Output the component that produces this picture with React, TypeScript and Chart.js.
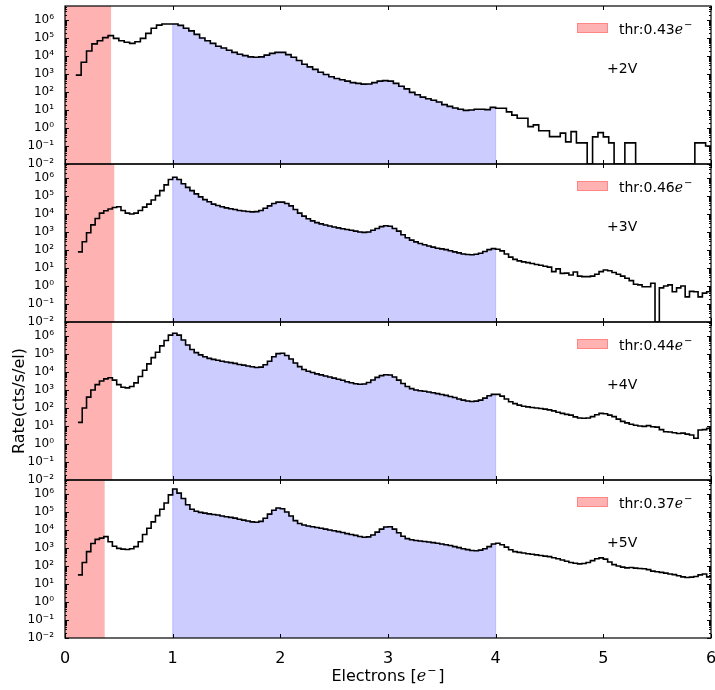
import React, { useEffect, useRef } from 'react';
import { Chart, registerables } from 'chart.js';

Chart.register(...registerables);

// ---------------- data ----------------
const X_TICKS = [0, 1, 2, 3, 4, 5, 6];
const Y_TICK_VALUES = [1e-2, 1e-1, 1e0, 1e1, 1e2, 1e3, 1e4, 1e5, 1e6];
const Y_TICK_LABELS = ['10⁻²', '10⁻¹', '10⁰', '10¹', '10²', '10³', '10⁴', '10⁵', '10⁶'];
const MINOR_MULTIPLES = [2, 3, 4, 5, 6, 7, 8, 9];
const X_MIN = 0;
const X_MAX = 6;
const Y_MIN = 1e-2;
const Y_MAX = 6e6;

const PANEL_LABELS = ['+2V', '+3V', '+4V', '+5V'];
const THRESHOLDS = [0.43, 0.46, 0.44, 0.37];
const SIGNAL_WINDOW = [1, 4];
const BIN_STARTS = [0.1, 0.12, 0.12, 0.12];
const BIN_WIDTHS = [0.05, 0.04, 0.04, 0.04];

// rate per bin (cts/s/el); 0 = empty bin
const RATE_2V = [
  870, 4.5e3, 1.9e4, 4.7e4, 7.1e4, 1.05e5, 1.35e5, 9.5e4, 7.1e4, 5.8e4,
  5.0e4, 6.2e4, 9.5e4, 1.8e5, 3.5e5, 5.2e5, 6.0e5, 6.0e5, 6.0e5, 5.0e5,
  3.5e5, 2.5e5, 1.6e5, 1.0e5, 7.1e4, 5.0e4, 3.5e4, 2.8e4, 2.1e4, 1.6e4,
  1.26e4, 1.05e4, 8.9e3, 8.5e3, 8.9e3, 1.12e4, 1.4e4, 1.6e4, 1.6e4, 1.2e4,
  8.5e3, 5.6e3, 3.5e3, 2.5e3, 1.8e3, 1.26e3, 930, 710, 560, 480,
  400, 330, 300, 275, 280, 330, 400, 430, 400, 300,
  210, 150, 95, 71, 52, 42, 35, 28, 20, 16,
  13, 11, 9.5, 10, 11, 11, 10.5, 14, 12.6, 12.6,
  7.9, 5.2, 3.5, 3.5, 1.2, 1.5, 0.7, 0.7, 0.33, 0.33,
  0.52, 0.17, 0.63, 0.15, 0.15, 0, 0.32, 0.55, 0.32, 0.15,
  0, 0, 0.15, 0.15, 0, 0, 0, 0, 0, 0,
  0, 0, 0, 0, 0, 0.15, 0.15, 0.1,
];

const RATE_3V = [
  79, 290, 910, 2.5e3, 5.6e3, 1.12e4, 1.51e4, 1.9e4, 2.29e4, 2.51e4,
  1.58e4, 1.12e4, 1.0e4, 1.12e4, 1.58e4, 2.4e4, 3.55e4, 6.0e4, 1.05e5, 2.0e5,
  4.17e5, 8.3e5, 1.1e6, 8.3e5, 4.8e5, 3.0e5, 2.0e5, 1.32e5, 8.9e4, 6.3e4,
  4.8e4, 3.55e4, 2.95e4, 2.51e4, 2.19e4, 1.95e4, 1.78e4, 1.58e4, 1.48e4, 1.38e4,
  1.32e4, 1.35e4, 1.58e4, 2.09e4, 2.82e4, 3.8e4, 4.57e4, 4.57e4, 3.8e4, 2.82e4,
  1.78e4, 1.12e4, 7.6e3, 5.5e3, 4.17e3, 3.31e3, 2.82e3, 2.45e3, 2.14e3, 1.9e3,
  1.7e3, 1.51e3, 1.38e3, 1.26e3, 1.12e3, 1.0e3, 955, 1.0e3, 1.26e3, 1.58e3,
  2.0e3, 2.24e3, 2.09e3, 1.58e3, 1.12e3, 710, 480, 355, 282, 229,
  195, 166, 145, 126, 115, 105, 91, 79, 69, 60,
  56, 55, 58, 66, 83, 105, 120, 110, 89, 60,
  40, 30, 25, 22, 20, 17.8, 15.8, 14.1, 12.6, 11.2,
  6.3, 8.9, 5.0, 5.2, 4.1, 6.0, 3.55, 3.3, 3.3, 3.55,
  4.5, 6.3, 7.8, 7.1, 5.6, 4.5, 3.55, 2.7, 2.0, 1.26,
  1.15, 0.91, 0.91, 1.41, 0, 0.79, 1.0, 1.15, 0.48, 0.79,
  1.0, 0.25, 0.5, 0.48, 0.25, 0.4, 0.48,
];

const RATE_4V = [
  16, 100, 400, 1.0e3, 2.0e3, 3.16e3, 4.17e3, 4.79e3, 3.55e3, 2.0e3,
  1.41e3, 1.32e3, 1.58e3, 2.5e3, 5.6e3, 1.26e4, 2.82e4, 6.3e4, 1.26e5, 2.82e5,
  5.6e5, 1.12e6, 1.41e6, 1.12e6, 6.0e5, 3.16e5, 1.78e5, 1.2e5, 8.9e4, 7.1e4,
  5.75e4, 5.0e4, 4.47e4, 3.98e4, 3.63e4, 3.31e4, 3.02e4, 2.63e4, 2.4e4, 2.14e4,
  1.95e4, 1.78e4, 1.86e4, 2.51e4, 3.98e4, 7.1e4, 1.05e5, 1.1e5, 8.3e4, 5.25e4,
  3.16e4, 2.0e4, 1.38e4, 1.1e4, 9.3e3, 7.9e3, 6.9e3, 6.0e3, 5.25e3, 4.57e3,
  3.98e3, 3.47e3, 2.88e3, 2.51e3, 2.24e3, 2.09e3, 2.14e3, 2.63e3, 3.63e3, 5.0e3,
  6.3e3, 7.1e3, 6.8e3, 5.25e3, 3.55e3, 2.29e3, 1.58e3, 1.2e3, 1.0e3, 912,
  851, 776, 708, 631, 562, 501, 437, 380, 316, 275,
  245, 229, 240, 275, 355, 479, 575, 575, 457, 316,
  224, 174, 145, 126, 115, 107, 100, 93, 87, 79,
  69, 58, 50, 44, 40, 32, 28, 27, 28, 33,
  42, 50, 48, 40, 33, 24, 18, 15, 12.6, 11,
  10, 9.5, 10.5, 9.1, 8.7, 6.3, 4.8, 4.6, 4.2, 3.8,
  4.0, 3.55, 3.16, 2.1, 6.0, 6.3, 7.4,
];

const RATE_5V = [
  32, 158, 631, 1.78e3, 3.0e3, 3.55e3, 4.27e3, 2.24e3, 1.26e3, 955,
  871, 832, 912, 1.2e3, 2.24e3, 5.6e3, 1.26e4, 2.82e4, 6.3e4, 1.41e5,
  3.16e5, 8.9e5, 1.9e6, 1.12e6, 5.6e5, 2.51e5, 1.41e5, 1.1e5, 9.5e4, 8.7e4,
  7.9e4, 7.2e4, 6.8e4, 6.0e4, 5.5e4, 5.0e4, 4.57e4, 3.98e4, 3.55e4, 3.16e4,
  2.82e4, 2.69e4, 3.02e4, 4.47e4, 7.6e4, 1.26e5, 1.66e5, 1.51e5, 1.0e5, 6.0e4,
  3.31e4, 2.29e4, 1.9e4, 1.66e4, 1.51e4, 1.38e4, 1.26e4, 1.12e4, 1.0e4, 9.1e3,
  8.1e3, 7.2e3, 6.3e3, 5.6e3, 5.0e3, 4.37e3, 3.98e3, 4.17e3, 5.25e3, 7.6e3,
  1.12e4, 1.48e4, 1.51e4, 1.12e4, 7.1e3, 4.47e3, 3.31e3, 2.88e3, 2.63e3, 2.45e3,
  2.29e3, 2.14e3, 2.0e3, 1.82e3, 1.66e3, 1.51e3, 1.38e3, 1.2e3, 1.05e3, 912,
  813, 724, 708, 759, 912, 1.2e3, 1.66e3, 1.82e3, 1.51e3, 1.12e3,
  794, 631, 575, 525, 479, 447, 417, 380, 355, 331,
  288, 251, 214, 182, 158, 141, 132, 138, 158, 200,
  251, 282, 240, 166, 120, 100, 87, 79, 83, 76,
  72, 71, 63, 52, 48, 44, 40, 36, 33, 29,
  25, 23, 24, 26, 32, 36, 25,
];

const RATES = [RATE_2V, RATE_3V, RATE_4V, RATE_5V];

// ---------------- styles ----------------
const FONT = '"DejaVu Sans", "Liberation Sans", sans-serif';
const MATH_FONT = '"DejaVu Serif", "Liberation Serif", serif';
const RED_FILL = 'rgba(255, 0, 0, 0.3)';
const BLUE_FILL = 'rgba(0, 0, 255, 0.2)';
const BLUE_EDGE = 'rgba(0, 0, 255, 0.22)';
const INK = '#000000';

type Pt = { x: number; y: number };

function binEdge(p: number, j: number): number {
  return +(BIN_STARTS[p] + j * BIN_WIDTHS[p]).toFixed(4);
}

function histogramPoints(p: number): Pt[] {
  const vals = RATES[p];
  const pts: Pt[] = vals.map((v, j) => ({ x: binEdge(p, j), y: v > 0 ? v : Y_MIN }));
  const last = vals[vals.length - 1];
  pts.push({ x: binEdge(p, vals.length), y: last > 0 ? last : Y_MIN });
  return pts;
}

function signalPoints(p: number): Pt[] {
  const vals = RATES[p];
  const [lo, hi] = SIGNAL_WINDOW;
  const pts: Pt[] = [{ x: lo, y: Y_MIN }];
  let lastVal = Y_MIN;
  vals.forEach((v, j) => {
    const e = binEdge(p, j);
    if (e >= lo - 1e-6 && e < hi - 1e-6) {
      lastVal = v > 0 ? v : Y_MIN;
      pts.push({ x: e, y: lastVal });
    }
  });
  pts.push({ x: hi, y: lastVal });
  pts.push({ x: hi, y: Y_MIN });
  return pts;
}

function drawElectronSymbol(ctx: CanvasRenderingContext2D, x: number, baseline: number, size: number): number {
  ctx.font = `italic ${size}px ${MATH_FONT}`;
  ctx.fillText('e', x, baseline);
  let w = ctx.measureText('e').width + 1;
  const supSize = Math.round(size * 0.7);
  ctx.font = `${supSize}px ${FONT}`;
  ctx.fillText('\u2212', x + w, baseline - size * 0.42);
  w += ctx.measureText('\u2212').width;
  return w;
}

const decorations = {
  id: 'decorations',
  afterDraw(chart: any) {
    const ctx: CanvasRenderingContext2D = chart.ctx;
    const { left, right } = chart.chartArea;
    const xs = chart.scales.x;
    ctx.save();
    ctx.fillStyle = INK;
    ctx.strokeStyle = INK;
    for (let p = 0; p < 4; p++) {
      const ys = chart.scales['y' + p];
      const top = ys.top;
      const bottom = ys.bottom;

      // inward ticks
      ctx.lineWidth = 1;
      ctx.beginPath();
      X_TICKS.forEach((t) => {
        const px = Math.round(xs.getPixelForValue(t)) + 0.5;
        ctx.moveTo(px, bottom);
        ctx.lineTo(px, bottom - 4);
        ctx.moveTo(px, top);
        ctx.lineTo(px, top + 4);
      });
      Y_TICK_VALUES.forEach((v) => {
        const py = Math.round(ys.getPixelForValue(v)) + 0.5;
        ctx.moveTo(left, py);
        ctx.lineTo(left + 4, py);
        ctx.moveTo(right, py);
        ctx.lineTo(right - 4, py);
        MINOR_MULTIPLES.forEach((m) => {
          const mv = m * v;
          if (mv >= Y_MAX) return;
          const pm = Math.round(ys.getPixelForValue(mv)) + 0.5;
          ctx.moveTo(left, pm);
          ctx.lineTo(left + 2, pm);
          ctx.moveTo(right, pm);
          ctx.lineTo(right - 2, pm);
        });
      });
      ctx.stroke();

      // frame
      ctx.lineWidth = 1.2;
      ctx.strokeRect(left, top, right - left, bottom - top);

      // legend
      const lx = right - 134;
      ctx.fillStyle = RED_FILL;
      ctx.fillRect(lx, top + 17, 31, 10);
      ctx.strokeStyle = 'rgba(255,0,0,0.25)';
      ctx.lineWidth = 1;
      ctx.strokeRect(lx + 0.5, top + 17.5, 30, 9);
      ctx.strokeStyle = INK;
      ctx.fillStyle = INK;
      ctx.textBaseline = 'alphabetic';
      ctx.textAlign = 'left';
      ctx.font = `14px ${FONT}`;
      const label = `thr:${THRESHOLDS[p].toFixed(2)}`;
      let tx = lx + 42;
      ctx.fillText(label, tx, top + 27.5);
      tx += ctx.measureText(label).width;
      drawElectronSymbol(ctx, tx, top + 27.5, 14);

      // voltage label
      ctx.font = `14px ${FONT}`;
      ctx.fillText(PANEL_LABELS[p], right - 104, top + 67);
    }

    // x axis title
    ctx.font = `16px ${FONT}`;
    const a = 'Electrons [';
    const wa = ctx.measureText(a).width;
    ctx.font = `italic 16px ${MATH_FONT}`;
    const we = ctx.measureText('e').width + 1;
    ctx.font = `11px ${FONT}`;
    const wm = ctx.measureText('\u2212').width;
    ctx.font = `16px ${FONT}`;
    const wb = ctx.measureText(']').width;
    const total = wa + we + wm + wb + 2;
    let x0 = (left + right) / 2 - total / 2;
    const base = 681;
    ctx.fillText(a, x0, base);
    x0 += wa;
    x0 += drawElectronSymbol(ctx, x0, base, 16) + 2;
    ctx.font = `16px ${FONT}`;
    ctx.fillText(']', x0, base);

    // y axis title (centred on third panel)
    const y3 = chart.scales.y2;
    ctx.translate(20, (y3.top + y3.bottom) / 2);
    ctx.rotate(-Math.PI / 2);
    ctx.textAlign = 'center';
    ctx.textBaseline = 'middle';
    ctx.font = `16px ${FONT}`;
    ctx.fillText('Rate(cts/s/el)', 0, 0);
    ctx.restore();
  },
};

export default function App() {
  const canvasRef = useRef<HTMLCanvasElement>(null);

  useEffect(() => {
    const canvas = canvasRef.current;
    if (!canvas) return;

    const datasets: any[] = [];
    const scales: any = {
      x: {
        type: 'linear',
        position: 'bottom',
        min: X_MIN,
        max: X_MAX,
        afterBuildTicks: (s: any) => {
          s.ticks = X_TICKS.map((v) => ({ value: v }));
        },
        ticks: {
          autoSkip: false,
          maxRotation: 0,
          color: INK,
          padding: 3,
          font: { size: 16, family: FONT },
          callback: (v: any) => String(v),
        },
        grid: { display: false },
        border: { display: false },
        afterFit: (s: any) => {
          s.height = 52;
          s.paddingLeft = 0;
          s.paddingRight = 0;
        },
      },
    };

    for (let p = 0; p < 4; p++) {
      const yid = 'y' + p;
      scales[yid] = {
        type: 'logarithmic',
        position: 'left',
        stack: 'panels',
        stackWeight: 1,
        weight: 4 - p,
        offset: false,
        min: Y_MIN,
        max: Y_MAX,
        afterBuildTicks: (s: any) => {
          s.ticks = Y_TICK_VALUES.map((v) => ({ value: v }));
        },
        ticks: {
          autoSkip: false,
          color: INK,
          padding: 3,
          font: { size: 12, family: FONT },
          callback: (v: any) => {
            const k = Y_TICK_VALUES.findIndex((t) => Math.abs(Math.log10(t) - Math.log10(v)) < 1e-6);
            return k >= 0 ? Y_TICK_LABELS[k] : '';
          },
        },
        grid: { display: false },
        border: { display: false },
        afterFit: (s: any) => {
          s.width = 65;
          s.paddingTop = 0;
          s.paddingBottom = 0;
        },
      };

      datasets.push({
        label: `hist ${PANEL_LABELS[p]}`,
        data: histogramPoints(p),
        yAxisID: yid,
        stepped: true,
        borderColor: INK,
        borderWidth: 1.6,
        pointRadius: 0,
        fill: false,
        order: 0,
      });
      datasets.push({
        label: `signal ${PANEL_LABELS[p]}`,
        data: signalPoints(p),
        yAxisID: yid,
        stepped: true,
        borderColor: BLUE_EDGE,
        borderWidth: 1,
        backgroundColor: BLUE_FILL,
        pointRadius: 0,
        fill: 'start',
        order: 1,
      });
      datasets.push({
        label: `thr ${PANEL_LABELS[p]}`,
        data: [
          { x: X_MIN, y: Y_MAX },
          { x: THRESHOLDS[p], y: Y_MAX },
        ],
        yAxisID: yid,
        borderWidth: 0,
        borderColor: 'rgba(0,0,0,0)',
        backgroundColor: RED_FILL,
        pointRadius: 0,
        fill: 'start',
        order: 2,
      });
    }

    const chart = new Chart(canvas, {
      type: 'line',
      data: { datasets },
      options: {
        responsive: false,
        animation: false,
        events: [],
        layout: { padding: { top: 6, right: 4, bottom: 0, left: 0 } },
        scales,
        plugins: {
          legend: { display: false },
          tooltip: { enabled: false },
          title: { display: false },
        },
      },
      plugins: [decorations],
    } as any);

    return () => chart.destroy();
  }, []);

  return (
    <div style={{ position: 'absolute', left: 0, top: 0, width: 715, height: 690, background: '#fff' }}>
      <canvas ref={canvasRef} width={715} height={690} style={{ display: 'block' }} />
    </div>
  );
}
